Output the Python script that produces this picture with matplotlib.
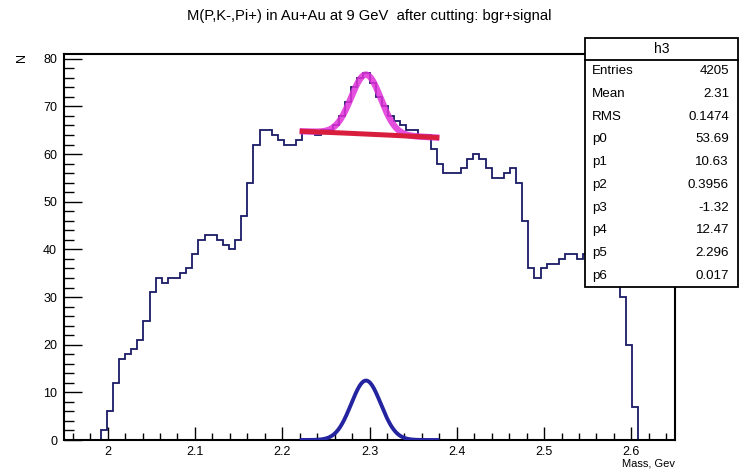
import numpy as np
import matplotlib
matplotlib.use("Agg")
import matplotlib.pyplot as plt
from matplotlib.ticker import MultipleLocator, FixedLocator, FixedFormatter
from matplotlib.patches import Rectangle
from matplotlib.lines import Line2D

# Histogram h3: invariant mass M(P,K-,Pi+), 100 bins on [1.95, 2.65]
bin_lo, bin_hi, n_bins = 1.95, 2.65, 100
counts = [0, 0, 0, 0, 0, 0,
          2, 6, 12, 17, 18, 19, 21, 25, 31, 34,
          33, 34, 34, 35, 36, 39, 42, 43, 43, 42,
          41, 40, 42, 47, 54, 62, 65, 65, 64, 63,
          62, 62, 63, 65, 65, 64, 65, 65, 66, 68,
          71, 74, 76, 77, 75, 72, 70, 68, 67, 66,
          65, 65, 64, 64, 61, 58, 56, 56, 56, 57,
          59, 60, 59, 57, 55, 55, 56, 57, 54, 46,
          36, 34, 36, 37, 37, 38, 39, 39, 38, 39,
          39, 38, 37, 36, 35, 30, 20, 7,
          0, 0, 0, 0, 0, 0]

# Fit: cubic background (p0..p3) + gaussian signal (p4..p6)
par_names = ["p0", "p1", "p2", "p3", "p4", "p5", "p6"]
par_values = [53.69, 10.63, 0.3956, -1.32, 12.47, 2.296, 0.017]
par_labels = ["53.69", "10.63", "0.3956", "-1.32", "12.47", "2.296", "0.017"]
fit_range = (2.22, 2.38)

stat_names = ["Entries", "Mean", "RMS"]
stat_labels = ["4205", "2.31", "0.1474"]

x_ticks = [2.0, 2.1, 2.2, 2.3, 2.4, 2.5, 2.6]
x_tick_labels = ["2", "2.1", "2.2", "2.3", "2.4", "2.5", "2.6"]
y_ticks = [0, 10, 20, 30, 40, 50, 60, 70, 80]

title = "M(P,K-,Pi+) in Au+Au at 9 GeV  after cutting: bgr+signal"

W, H = 739, 473
FONT = ["Liberation Sans Narrow", "Liberation Sans", "DejaVu Sans"]
plt.rcParams["font.family"] = FONT

fig = plt.figure(figsize=(W / 100, H / 100), dpi=100)
fig.patch.set_facecolor("white")

def fx(px):
    return px / W

def fy(py):
    return 1 - py / H

ax = fig.add_axes([fx(64), fy(440), fx(675) - fx(64), fy(54) - fy(440)])

edges = np.linspace(bin_lo, bin_hi, n_bins + 1)
ax.stairs(counts, edges, color="#1a1a66", lw=1.3, zorder=2)

def background(x, p):
    return p[0] + p[1] * x + p[2] * x ** 2 + p[3] * x ** 3

def signal(x, p):
    return p[4] * np.exp(-0.5 * ((x - p[5]) / p[6]) ** 2)

xf = np.linspace(fit_range[0], fit_range[1], 300)
ax.plot(xf, background(xf, par_values) + signal(xf, par_values),
        color="#e030d8", lw=4.6, alpha=0.85, solid_capstyle="butt", zorder=3)
ax.plot(xf, background(xf, par_values), color="#d81e3c", lw=3.6,
        solid_capstyle="butt", zorder=4)
ax.plot(xf, signal(xf, par_values), color="#2424a0", lw=2.8,
        solid_capstyle="butt", zorder=4)

ax.set_xlim(bin_lo, bin_hi)
ax.set_ylim(0, 81)

ax.xaxis.set_major_locator(FixedLocator(x_ticks))
ax.xaxis.set_major_formatter(FixedFormatter(x_tick_labels))
ax.xaxis.set_minor_locator(MultipleLocator(0.02))
ax.yaxis.set_major_locator(FixedLocator(y_ticks))
ax.yaxis.set_minor_locator(MultipleLocator(2))

ax.tick_params(axis="x", which="major", direction="in", length=9.5, width=1.0,
               labelsize=9, pad=4, top=False)
ax.tick_params(axis="x", which="minor", direction="in", length=5, width=1.0, top=False)
ax.tick_params(axis="y", which="major", direction="in", length=13, width=1.0,
               labelsize=9, pad=5, right=False)
ax.tick_params(axis="y", which="minor", direction="in", length=7, width=1.0, right=False)
for s in ax.spines.values():
    s.set_linewidth(1.5)
    s.set_color("black")

fig.text(0.5, fy(16), title, ha="center", va="center", fontsize=10.6)
fig.text(fx(22), fy(57), "N", ha="center", va="center", rotation=90, fontsize=9)
fig.text(fx(675), fy(463), "Mass, Gev", ha="right", va="center", fontsize=8)

# Statistics box
bx0, bx1, by0, by1, hdr = 585, 738, 38, 287, 60
fig.add_artist(Rectangle((fx(bx0), fy(by1)), fx(bx1) - fx(bx0), fy(by0) - fy(by1),
                         transform=fig.transFigure, facecolor="white",
                         edgecolor="black", lw=1.3, zorder=10))
fig.add_artist(Line2D([fx(bx0), fx(bx1)], [fy(hdr), fy(hdr)],
                      transform=fig.transFigure, color="black", lw=1.3, zorder=11))
fig.text(fx((bx0 + bx1) / 2), fy((by0 + hdr) / 2), "h3", ha="center", va="center",
         fontsize=10, zorder=12)
rows = list(zip(stat_names + par_names, stat_labels + par_labels))
row_h = (by1 - hdr) / len(rows)
for i, (name, val) in enumerate(rows):
    yy = fy(hdr + row_h * (i + 0.5))
    fig.text(fx(592), yy, name, ha="left", va="center", fontsize=9.6, zorder=12)
    fig.text(fx(729), yy, val, ha="right", va="center", fontsize=9.6, zorder=12)

fig.savefig("out.png", dpi=100)
